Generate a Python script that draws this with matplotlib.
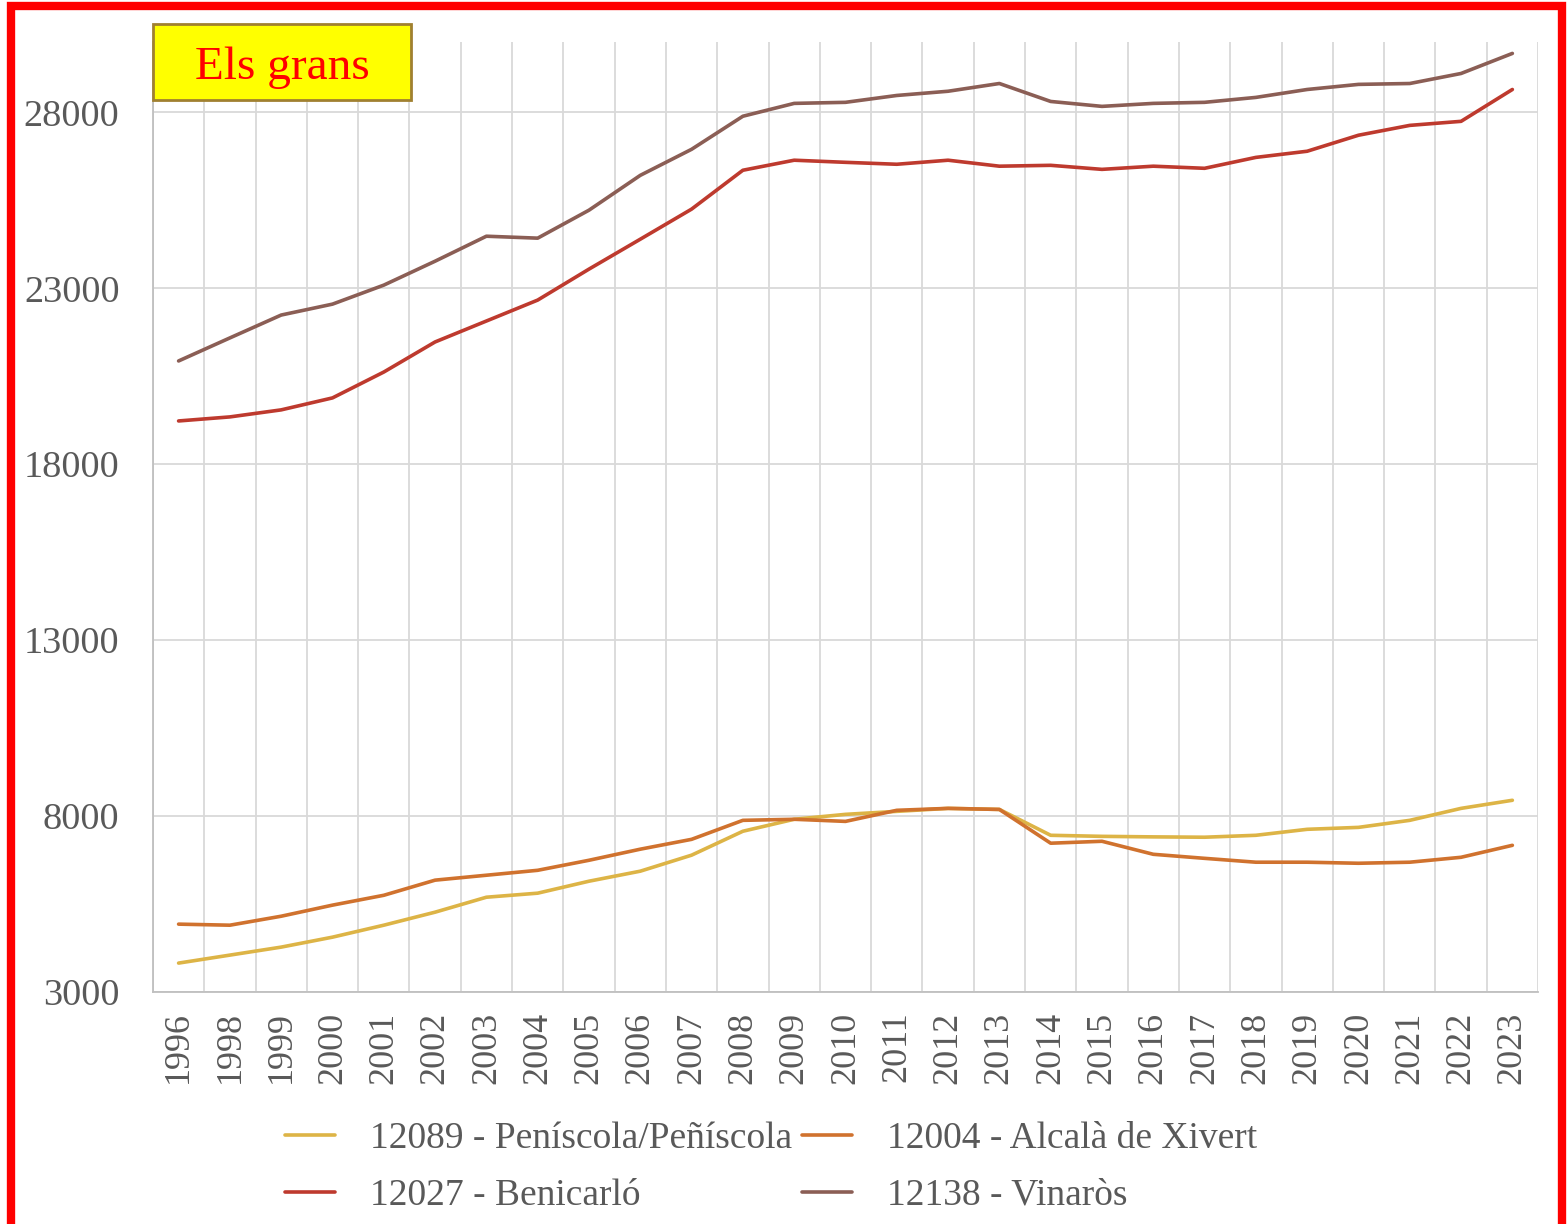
import matplotlib
matplotlib.use("Agg")
import matplotlib.pyplot as plt
from matplotlib.patches import Rectangle
import numpy as np

# Years (1997 is missing in the source)
years = ["1996", "1998", "1999", "2000", "2001", "2002", "2003", "2004", "2005",
         "2006", "2007", "2008", "2009", "2010", "2011", "2012", "2013", "2014",
         "2015", "2016", "2017", "2018", "2019", "2020", "2021", "2022", "2023"]

peniscola = [3823, 4050, 4277, 4560, 4900, 5270, 5695, 5810, 6150, 6435, 6890,
             7570, 7910, 8050, 8135, 8220, 8190, 7455, 7425, 7410, 7400, 7455,
             7625, 7680, 7880, 8220, 8450]
alcala = [4930, 4900, 5155, 5470, 5750, 6180, 6320, 6460, 6745, 7060, 7340,
          7880, 7910, 7850, 8165, 8220, 8190, 7230, 7285, 6915, 6800, 6690,
          6690, 6660, 6690, 6830, 7170]
benicarlo = [19230, 19345, 19545, 19885, 20620, 21475, 22070, 22665, 23545,
             24395, 25250, 26355, 26640, 26580, 26525, 26640, 26470, 26495,
             26380, 26470, 26410, 26720, 26895, 27350, 27630, 27745, 28650]
vinaros = [20935, 21590, 22240, 22550, 23090, 23770, 24480, 24425, 25220,
           26210, 26950, 27890, 28255, 28285, 28480, 28600, 28820, 28310,
           28170, 28255, 28285, 28425, 28650, 28795, 28820, 29105, 29675]

series = [
    ("12089 - Peníscola/Peñíscola", peniscola, "#DDB446"),
    ("12004 - Alcalà de Xivert", alcala, "#D0722E"),
    ("12027 - Benicarló", benicarlo, "#BE3A2E"),
    ("12138 - Vinaròs", vinaros, "#8B5E55"),
]

plt.rcParams['font.family'] = ['Liberation Serif', 'DejaVu Serif']

fig = plt.figure(figsize=(15.67, 12.24), dpi=100)
ax = fig.add_axes([0.0976, 0.1895, 0.8839, 0.7762])

x = np.arange(len(years))
lines = []
for label, vals, color in series:
    ln, = ax.plot(x, vals, color=color, lw=2.6, label=label, solid_capstyle='round')
    lines.append(ln)

ax.set_xlim(-0.5, len(years) - 0.5)
ax.set_ylim(3000, 30000)
ax.set_yticks(range(3000, 28001, 5000))
ax.set_xticks(x)
ax.set_xticklabels(years, rotation=90)
ax.set_xticks(np.arange(-0.5, len(years), 1), minor=True)
ax.tick_params(axis='both', which='both', length=0, labelcolor='#595959')
ax.tick_params(axis='x', pad=14, labelsize=26)
ax.tick_params(axis='y', pad=24, labelsize=27.5)
ax.grid(True, which='minor', axis='x', color='#D9D9D9', lw=1.3)
ax.grid(True, which='major', axis='y', color='#D9D9D9', lw=1.3)
ax.set_axisbelow(True)
for s in ['top', 'right']:
    ax.spines[s].set_visible(False)
for s in ['left', 'bottom']:
    ax.spines[s].set_color('#BFBFBF')
    ax.spines[s].set_linewidth(1.3)

# legend filled row by row like the original
order = [0, 2, 1, 3]
ax.legend([lines[i] for i in order], [series[i][0] for i in order],
          loc='upper left', bbox_to_anchor=(0.0953, -0.136), ncol=2, frameon=False,
          fontsize=27, labelcolor='#595959', handlelength=1.33, handletextpad=0.93,
          columnspacing=0.27, labelspacing=0.6, borderpad=0.0, borderaxespad=0.0)

# title box
fig.patches.append(Rectangle((0.0976, 0.9183), 0.1646, 0.0621, transform=fig.transFigure,
                             facecolor='yellow', edgecolor='#A08030', lw=2, zorder=5))
fig.text(0.1800, 0.9445, "Els grans", fontsize=34, color='red', ha='center', va='center',
         zorder=6)

# red frame around the chart
fig.patches.append(Rectangle((0.0070, -0.05), 0.9898, 1.045, transform=fig.transFigure,
                             fill=False, edgecolor='red', lw=6))

fig.savefig("out.png", dpi=100)
